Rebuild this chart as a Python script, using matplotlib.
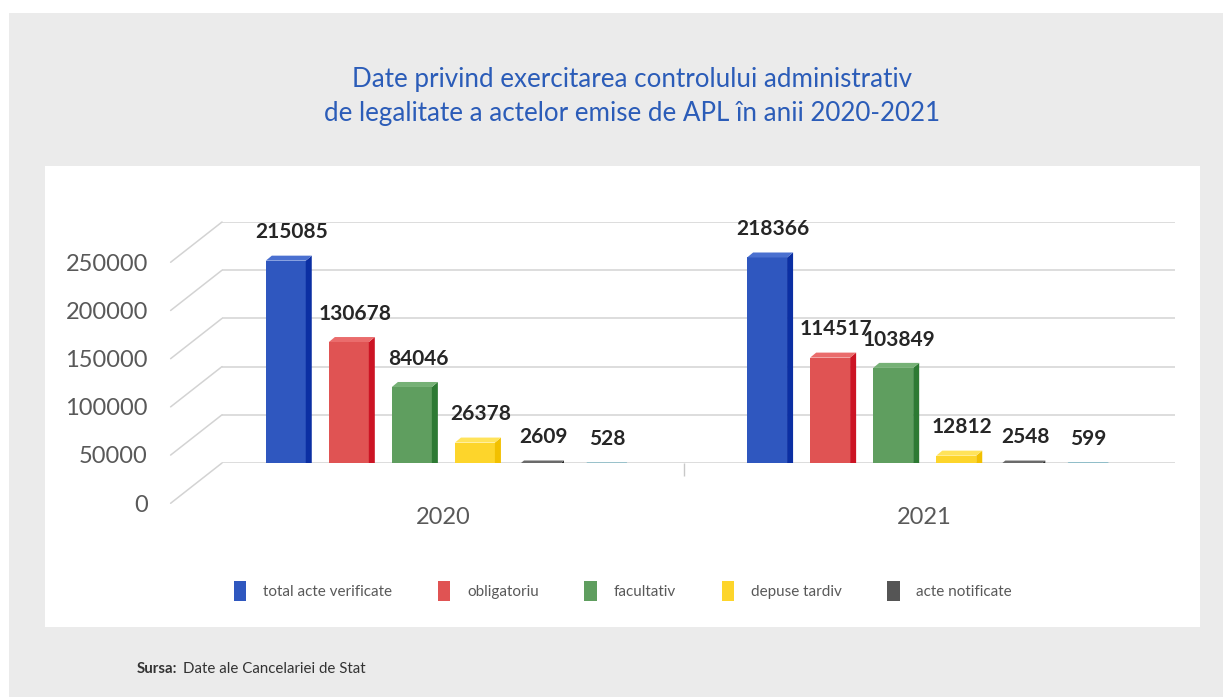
import matplotlib
matplotlib.use("Agg")
import matplotlib.pyplot as plt
import matplotlib.patches as patches
from matplotlib.transforms import ScaledTranslation

years = ['2020', '2021']
series = ['total acte verificate', 'obligatoriu', 'facultativ', 'depuse tardiv',
          'acte notificate', 'alte acte']
values_2020 = [215085, 130678, 84046, 26378, 2609, 528]
values_2021 = [218366, 114517, 103849, 12812, 2548, 599]
y_ticks = [0, 50000, 100000, 150000, 200000, 250000]

front_colors = ['#2f57bf', '#e05353', '#5f9e5f', '#fdd52b', '#555555', '#70b3c4']
side_colors = ['#0b2fa3', '#cc1424', '#2d7a33', '#f2c000', '#2b2b2b', '#3f98ae']
top_colors = ['#4a70d0', '#ea6c6c', '#76b176', '#ffe35a', '#6a6a6a', '#5aa8bb']

plt.rcParams['font.family'] = ['Lato', 'DejaVu Sans']

W, H = 1223, 697
fig = plt.figure(figsize=(W / 100, H / 100), dpi=100)
fig.patch.set_facecolor('white')


def px_rect(x0, y0, x1, y1):
    # pixel box (top-left origin) -> figure fraction rect
    return [x0 / W, 1 - y1 / H, (x1 - x0) / W, (y1 - y0) / H]


# grey page and white chart panel
fig.patches.append(patches.Rectangle((9 / W, 0), 1, 1 - 13 / H, transform=fig.transFigure,
                                     facecolor='#ebebeb', edgecolor='none', zorder=-3))
fig.patches.append(patches.Rectangle((45 / W, 1 - 627 / H), 1155 / W, 461 / H, transform=fig.transFigure,
                                     facecolor='white', edgecolor='none', zorder=-2))

fig.text(632 / W, 1 - 96 / H, 'Date privind exercitarea controlului administrativ\n'
         'de legalitate a actelor emise de APL în anii 2020-2021',
         ha='center', va='center', fontsize=18.7, color='#2b5cb8', linespacing=1.45)

# back wall axes
ax = fig.add_axes(px_rect(222, 222, 1175, 463))
ax.set_xlim(-0.46, 1.52)
ax.set_ylim(0, 250000)
ax.patch.set_alpha(0)
for s in ax.spines.values():
    s.set_visible(False)
ax.set_yticks(y_ticks)
ax.yaxis.grid(True, color='#d3d3d3', lw=1.1)
ax.set_axisbelow(True)
ax.tick_params(axis='y', length=0, labelleft=False)
ax.set_xticks([0, 1])
ax.set_xticklabels(years)
ax.set_xticks([0.5], minor=True)
ax.tick_params(axis='x', which='major', length=0, pad=32, labelsize=17, labelcolor='#595959')
ax.tick_params(axis='x', which='minor', length=9, width=1, color='#c8c8c8')

# front axes carrying the value labels
fax = fig.add_axes(px_rect(170, 262, 1123, 503))
fax.set_xlim(0, 1)
fax.set_ylim(0, 250000)
fax.patch.set_alpha(0)
for s in fax.spines.values():
    s.set_visible(False)
fax.set_xticks([])
fax.set_yticks(y_ticks)
fax.set_yticklabels([str(v) for v in y_ticks])
fax.tick_params(axis='y', length=0, pad=16, labelsize=17, labelcolor='#595959')

# diagonal side-wall lines
for v in y_ticks:
    ax.annotate('', xy=(-0.46, v), xytext=(-37, -29), textcoords='offset points',
                arrowprops=dict(arrowstyle='-', color='#d3d3d3', lw=1.1,
                                shrinkA=0, shrinkB=0), annotation_clip=False)

width = 0.083
step = 0.131
ddx = 0.0125
ddy = 5 * 250000 / 241
shift = ax.transData + ScaledTranslation(0, -0.05, fig.dpi_scale_trans)

bar_handles = []
for g, vals in enumerate([values_2020, values_2021]):
    for i, v in enumerate(vals):
        xc = g + (i - 2.5) * step
        xl, xr = xc - width / 2, xc + width / 2
        b = ax.bar(xc, v, width=width, color=front_colors[i], transform=shift,
                   zorder=3, label=series[i] if g == 0 else None)
        if g == 0:
            bar_handles.append(b)
        side = patches.Polygon([(xr, 0), (xr + ddx, ddy), (xr + ddx, v + ddy), (xr, v)],
                               closed=True, facecolor=side_colors[i], edgecolor='none',
                               transform=shift, zorder=3)
        top = patches.Polygon([(xl, v), (xl + ddx, v + ddy), (xr + ddx, v + ddy), (xr, v)],
                              closed=True, facecolor=top_colors[i], edgecolor='none',
                              transform=shift, zorder=3)
        ax.add_patch(side)
        ax.add_patch(top)
        ax.annotate(str(v), xy=(xc + ddx, v + ddy), xytext=(0, 6), textcoords='offset points',
                    ha='center', va='bottom', fontsize=15, fontweight='bold', color='#262626',
                    annotation_clip=False)

leg = fig.legend(handles=bar_handles[:5], labels=series[:5], loc='center',
                 bbox_to_anchor=(623 / W, 1 - 591 / H), ncol=5, frameon=False,
                 fontsize=11, handlelength=0.8, handleheight=1.6, handletextpad=1.1,
                 columnspacing=3.0)
for t in leg.get_texts():
    t.set_color('#595959')

fig.text(137 / W, 1 - 669 / H, 'Sursa:', fontsize=10.8, fontweight='bold', color='#333333',
         va='center', ha='left')
fig.text(183 / W, 1 - 669 / H, 'Date ale Cancelariei de Stat', fontsize=10.8, color='#333333',
         va='center', ha='left')

fig.savefig('out.png', dpi=100, facecolor=fig.get_facecolor())
